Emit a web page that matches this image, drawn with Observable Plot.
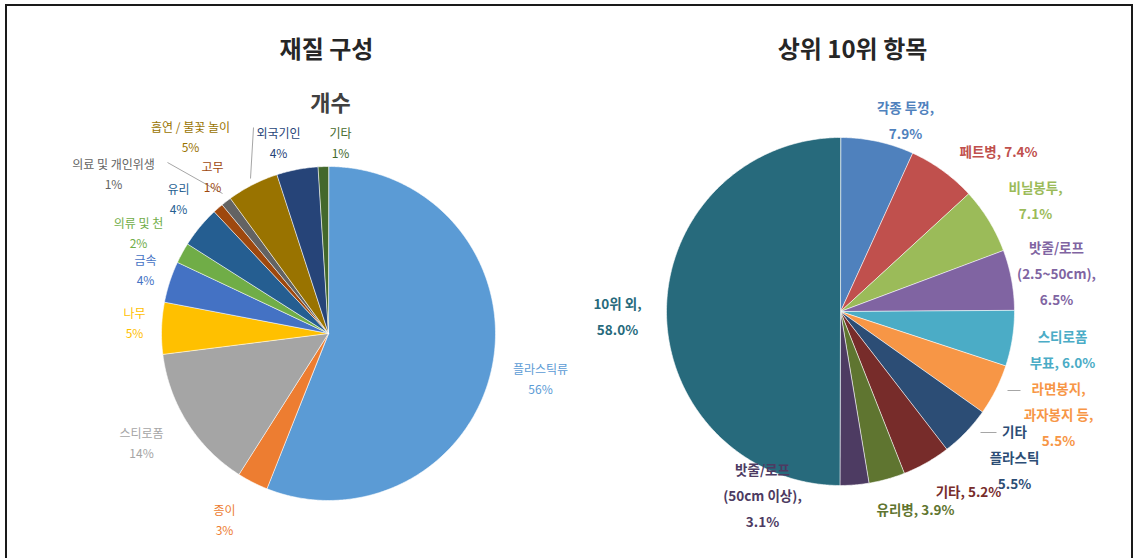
<!DOCTYPE html>
<html><head><meta charset="utf-8">
<script src="https://cdn.jsdelivr.net/npm/d3@7"></script>
<script src="https://cdn.jsdelivr.net/npm/@observablehq/plot@0.6"></script>
<style>
body{margin:0;background:#fff;font-family:"Noto Sans CJK KR",sans-serif;}
#wrap{position:relative;width:1139px;height:558px;overflow:hidden;background:#fff}
#frame{position:absolute;left:5px;top:4px;width:1124px;height:620px;border:2px solid #1a1a1a;pointer-events:none}
</style></head><body><div id="wrap"><div id="frame"></div></div>
<script>
// ---- data: 재질 구성 (개수) ----
const matCategories = ["플라스틱류","종이","스티로폼","나무","금속","의류 및 천","유리","고무","의료 및 개인위생","흡연 / 불꽃 놀이","외국기인","기타"];
const matValues = [56,3,14,5,4,2,4,1,1,5,4,1];
const matValueLabels = ["56%","3%","14%","5%","4%","2%","4%","1%","1%","5%","4%","1%"];
const matColors = ["#5B9BD5","#ED7D31","#A5A5A5","#FFC000","#4472C4","#70AD47","#255E91","#9E480E","#636363","#997300","#264478","#43682B"];

// ---- data: 상위 10위 항목 ----
const topCategories = ["각종 뚜껑","페트병","비닐봉투","밧줄/로프 (2.5~50cm)","스티로폼 부표","라면봉지, 과자봉지 등","기타 플라스틱","기타","유리병","밧줄/로프 (50cm 이상)","10위 외"];
const topValues = [7.9,7.4,7.1,6.5,6.0,5.5,5.5,5.2,3.9,3.1,58.0];
const topLabelTexts = ["각종 투껑,\n7.9%","페트병, 7.4%","비닐봉투,\n7.1%","밧줄/로프\n(2.5~50cm),\n6.5%","스티로폼\n부표, 6.0%","라면봉지,\n과자봉지 등,\n5.5%","기타\n플라스틱\n5.5%","기타, 5.2%","유리병, 3.9%","밧줄/로프\n(50cm 이상),\n3.1%","10위 외,\n58.0%"];
const topColors = ["#4F81BD","#C0504D","#9BBB59","#8064A2","#4BACC6","#F79646","#2C4D75","#772C2A","#5F7530","#4D3B62","#276A7C"];

// ---- layout ----
const pieLayout = [
  {title:"재질 구성", titleX:326, titleY:50, cx:328, cy:333, r:167},
  {title:"상위 10위 항목", titleX:852, titleY:50, cx:840, cy:311, r:174}
];
const matLabelPos = [[540,377],[224,518],[141,441],[134,321],[145,268],[138,231],[178,197],[212,175],[113,172],[190,135],[278,141],[340,141]];
const topLabelPos = [[905,117],[998,148],[1035,197],[1056,270],[1062,346],[1058,411],[1014,454],[968,488],[915,506],[762,492],[617,313]];
const leaderLines = [
  {x1:167,y1:162,x2:222,y2:193},
  {x1:253,y1:127,x2:250,y2:178},
  {x1:1007,y1:390,x2:1020,y2:390},
  {x1:980,y1:432,x2:996,y2:432}
];

function slicePoints(cats, vals, colors, layout, prefix) {
  const arcs = d3.pie().sort(null).value(d => d)(vals);
  const pts = [];
  arcs.forEach((a, i) => {
    const key = prefix + i;
    pts.push({key, color: colors[i], x: layout.cx, y: layout.cy});
    const n = Math.max(2, Math.ceil((a.endAngle - a.startAngle) / (Math.PI / 360)));
    for (let k = 0; k <= n; k++) {
      const t = a.startAngle + (a.endAngle - a.startAngle) * k / n;
      pts.push({key, color: colors[i], x: layout.cx + layout.r * Math.sin(t), y: layout.cy - layout.r * Math.cos(t)});
    }
  });
  return pts;
}

const slices = [
  ...slicePoints(matCategories, matValues, matColors, pieLayout[0], "m"),
  ...slicePoints(topCategories, topValues, topColors, pieLayout[1], "t")
];

const matLabels = matCategories.map((c, i) => ({text: c + "\n" + matValueLabels[i], color: matColors[i], x: matLabelPos[i][0], y: matLabelPos[i][1]}));
const topLabels = topLabelTexts.map((t, i) => ({text: t, color: topColors[i], x: topLabelPos[i][0], y: topLabelPos[i][1]}));

const font = '"Noto Sans CJK KR", "Noto Sans", sans-serif';

const chart = Plot.plot({
  width: 1139, height: 558,
  margin: 0,
  x: {domain: [0, 1139], range: [0, 1139], axis: null},
  y: {domain: [0, 558], range: [0, 558], axis: null},
  color: {type: "identity"},
  style: {fontFamily: font, background: "transparent"},
  marks: [
    Plot.line(slices, {x: "x", y: "y", z: "key", fill: "color", stroke: "white", strokeWidth: 0.6, curve: "linear-closed"}),
    Plot.link(leaderLines, {x1: "x1", y1: "y1", x2: "x2", y2: "y2", stroke: "#a6a6a6", strokeWidth: 1}),
    Plot.text(pieLayout, {x: "titleX", y: "titleY", text: "title", fontSize: 24, fontWeight: "bold", fill: "#262626", fontFamily: font}),
    Plot.text(["개수"], {x: () => pieLayout[0].cx + 2, y: () => 103, text: d => d, fontSize: 22, fontWeight: "bold", fill: "#404040", fontFamily: font}),
    Plot.text(matLabels, {x: "x", y: "y", text: "text", fill: "color", fontSize: 12, lineHeight: 1.7, lineAnchor: "middle", fontFamily: font}),
    Plot.text(topLabels, {x: "x", y: "y", text: "text", fill: "color", fontSize: 13.5, fontWeight: "bold", lineHeight: 1.95, lineAnchor: "middle", fontFamily: font})
  ]
});
document.getElementById("wrap").prepend(chart);
</script>
</body></html>
